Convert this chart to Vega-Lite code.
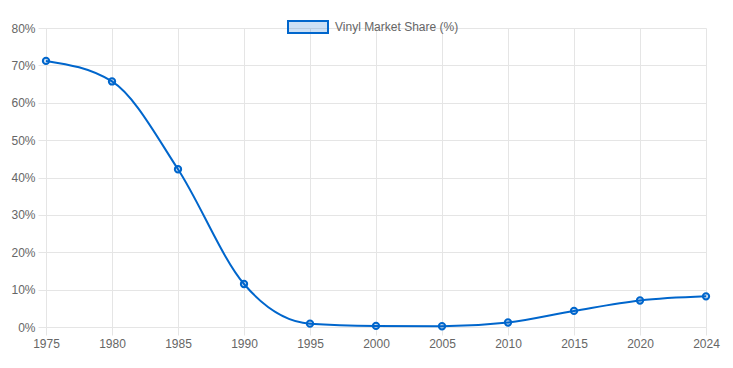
{
  "$schema": "https://vega.github.io/schema/vega-lite/v6.json",
  "width": 660,
  "height": 299,
  "autosize": {"type": "none"},
  "padding": {"left": 46, "top": 28, "right": 27, "bottom": 41},
  "background": "white",
  "config": {
    "view": {"stroke": null},
    "font": "Liberation Sans",
    "axis": {
      "labelFont": "Liberation Sans",
      "labelFontSize": 12,
      "labelColor": "#666666",
      "gridColor": "#e5e5e5",
      "tickColor": "#e5e5e5",
      "domainColor": "#e5e5e5",
      "tickSize": 8,
      "labelPadding": 3,
      "title": null
    }
  },
  "data": {
    "values": [
      {"year": "1975", "share": 71.2, "series": "Vinyl Market Share (%)"},
      {"year": "1980", "share": 65.7, "series": "Vinyl Market Share (%)"},
      {"year": "1985", "share": 42.2, "series": "Vinyl Market Share (%)"},
      {"year": "1990", "share": 11.5, "series": "Vinyl Market Share (%)"},
      {"year": "1995", "share": 0.9, "series": "Vinyl Market Share (%)"},
      {"year": "2000", "share": 0.3, "series": "Vinyl Market Share (%)"},
      {"year": "2005", "share": 0.2, "series": "Vinyl Market Share (%)"},
      {"year": "2010", "share": 1.2, "series": "Vinyl Market Share (%)"},
      {"year": "2015", "share": 4.3, "series": "Vinyl Market Share (%)"},
      {"year": "2020", "share": 7.1, "series": "Vinyl Market Share (%)"},
      {"year": "2024", "share": 8.2, "series": "Vinyl Market Share (%)"}
    ]
  },
  "encoding": {
    "x": {
      "field": "year",
      "type": "ordinal",
      "sort": null,
      "scale": {"type": "point", "padding": 0},
      "axis": {"labelAngle": 0, "grid": true, "title": null}
    },
    "y": {
      "field": "share",
      "type": "quantitative",
      "scale": {"domain": [0, 80], "nice": false},
      "axis": {"values": [0, 10, 20, 30, 40, 50, 60, 70, 80], "labelExpr": "datum.value + '%'", "grid": true, "title": null}
    }
  },
  "layer": [
    {
      "mark": {"type": "line", "interpolate": "monotone", "strokeWidth": 2},
      "encoding": {
        "color": {
          "field": "series",
          "type": "nominal",
          "scale": {"range": ["#0066cc"]},
          "legend": {
            "title": null,
            "orient": "none",
            "legendX": 241,
            "legendY": -22,
            "symbolType": "M-1,-0.3H1V0.3H-1Z",
            "symbolSize": 1600,
            "symbolFillColor": "rgba(0,102,204,0.2)",
            "symbolStrokeWidth": 2,
            "symbolOpacity": 1,
            "labelFont": "Liberation Sans",
            "labelFontSize": 12,
            "labelColor": "#666666",
            "labelOffset": 6
          }
        }
      }
    },
    {
      "mark": {"type": "point", "filled": false, "fill": "rgba(0,102,204,0.2)", "stroke": "#0066cc", "strokeWidth": 2, "size": 40, "opacity": 1}
    }
  ]
}
